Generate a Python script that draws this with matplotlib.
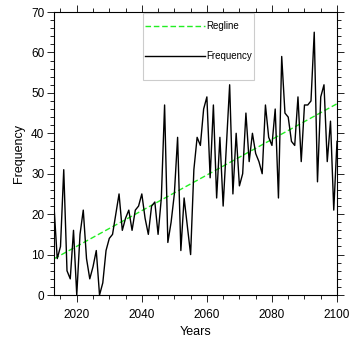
"""
frequency time series with linear trend (NCL look)
"""
import numpy as np
import matplotlib
matplotlib.use('Agg')
import matplotlib.pyplot as plt
from matplotlib.patches import Rectangle
from matplotlib.ticker import MultipleLocator

years = list(range(2013, 2101))

frequency = [22, 9, 12, 31, 6, 4, 16, 0, 15, 21,
             9, 4, 7, 11, 0, 3, 11, 14, 15, 20,
             25, 16, 19, 21, 16, 21, 22, 25, 19, 15,
             22, 23, 15, 24, 47, 13, 18, 25, 39, 11,
             24, 17, 10, 31, 39, 37, 46, 49, 29, 47,
             24, 39, 22, 37, 52, 25, 40, 27, 30, 45,
             33, 40, 35, 33, 30, 47, 39, 37, 46, 24,
             59, 45, 44, 38, 37, 49, 33, 47, 47, 48,
             65, 28, 49, 52, 33, 43, 21, 38]

plt.rcParams['font.family'] = ['Liberation Sans', 'DejaVu Sans']

x = np.array(years)
y = np.array(frequency)
slope, icpt = np.polyfit(x, y, 1)
regline = slope * x + icpt

fig = plt.figure(figsize=(3.54, 3.44), dpi=100)
ax = fig.add_axes([0.1525, 0.1424, 0.7995, 0.8227])

ax.plot(x, regline, color='#22ee22', lw=1.0, ls=(0, (4, 2)), label='Regline')
ax.plot(x, y, color='black', lw=1.0, label='Frequency')

ax.set_xlim(2013, 2100)
ax.set_ylim(0, 70)
ax.xaxis.set_major_locator(MultipleLocator(20))
ax.xaxis.set_minor_locator(MultipleLocator(5))
ax.yaxis.set_major_locator(MultipleLocator(10))
ax.yaxis.set_minor_locator(MultipleLocator(2))
ax.tick_params(which='both', direction='out', top=True, right=True,
               labelsize=8.5, width=0.6)
ax.tick_params(axis='x', pad=5)
ax.tick_params(axis='y', pad=2)
ax.tick_params(which='major', length=5)
ax.tick_params(which='minor', length=3)
for sp in ax.spines.values():
    sp.set_linewidth(0.8)

ax.set_xlabel('Years', fontsize=9, labelpad=4)
ax.set_ylabel('Frequency', fontsize=9, labelpad=4)

# legend box drawn by hand, entries placed inside it
box = Rectangle((0.3145, 0.7597), 0.3922, 0.2368, transform=ax.transAxes,
                facecolor='white', edgecolor='#cccccc', lw=0.8, zorder=4)
ax.add_patch(box)
leg = ax.legend(loc='center left', bbox_to_anchor=(0.3216, 0.8968), borderaxespad=0,
                borderpad=0, fontsize=7, handlelength=6.2, handletextpad=0.1,
                labelspacing=2.1, frameon=False)
leg.set_zorder(5)

plt.savefig('out.png', dpi=100)
